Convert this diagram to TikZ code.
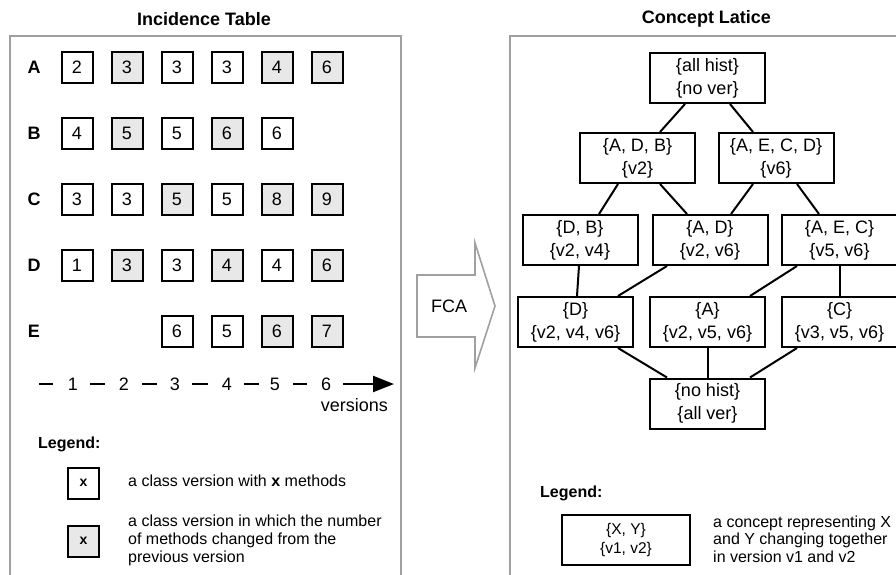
\documentclass[tikz,border=0pt]{standalone}
\usepackage{fontspec}
\setmainfont{Liberation Sans}
\usetikzlibrary{calc,arrows.meta}
\definecolor{cellgray}{HTML}{E8E8E8}
\definecolor{panelgray}{HTML}{A0A0A0}
\begin{document}
\begin{tikzpicture}[x=1pt,y=-1pt,
  txt/.style={font=\fontsize{18}{21}\selectfont},
  title/.style={font=\fontsize{18}{21}\selectfont\bfseries},
  cell/.style={draw=black,line width=2pt,minimum size=31pt,inner sep=0pt,txt},
  chg/.style={cell,fill=cellgray},
  concept/.style={draw=black,line width=2pt,minimum width=115pt,minimum height=50pt,
    align=center,inner sep=0pt,font=\fontsize{18}{23}\selectfont},
  link/.style={draw=black,line width=2pt},
  panel/.style={draw=panelgray,line width=2pt},
  legtxt/.style={font=\fontsize{16}{18}\selectfont,align=left,anchor=west,inner sep=0pt}]
\clip (0,0) rectangle (896,574);

% ---------- incidence table ----------
\node[title] (ttl1) at (204,19) {Incidence Table};
\draw[panel] (10,36) rectangle (401,600);

\foreach \r/\y in {A/67,B/133,C/199,D/265,E/331}
  \node[title] (lab\r) at (34,\y) {\r};

% row A
\foreach \i/\v/\s in {1/2/cell,2/3/chg,3/3/cell,4/3/cell,5/4/chg,6/6/chg}
  \node[\s] (A\i) at ({27+50*\i},67) {\v};
% row B
\foreach \i/\v/\s in {1/4/cell,2/5/chg,3/5/cell,4/6/chg,5/6/cell}
  \node[\s] (B\i) at ({27+50*\i},133) {\v};
% row C
\foreach \i/\v/\s in {1/3/cell,2/3/cell,3/5/chg,4/5/cell,5/8/chg,6/9/chg}
  \node[\s] (C\i) at ({27+50*\i},199) {\v};
% row D
\foreach \i/\v/\s in {1/1/cell,2/3/chg,3/3/cell,4/4/chg,5/4/cell,6/6/chg}
  \node[\s] (D\i) at ({27+50*\i},265) {\v};
% row E
\foreach \i/\v/\s in {3/6/cell,4/5/cell,5/6/chg,6/7/chg}
  \node[\s] (E\i) at ({27+50*\i},331) {\v};

% version axis
\foreach \i/\x in {1/73,2/124,3/175,4/227,5/275,6/326}
  \node[txt,inner sep=0pt] (ver\i) at (\x,384) {\i};
\foreach \a/\b in {39/53,90/105,142/157,192/208,244/259,293/307}
  \draw[line width=2pt] (\a,384) -- (\b,384);
\coordinate (axe) at (394,384);
\draw[line width=2.2pt,-{Triangle[length=21pt,width=16pt]}] (343,384) -- (axe);
\node[font=\fontsize{18}{21}\selectfont,anchor=east,inner sep=0pt] (vers) at (388,405) {versions};

% legend (left)
\node[font=\fontsize{16}{18}\selectfont\bfseries,anchor=west,inner sep=0pt] (leg1) at (38,444) {Legend:};
\node[cell,font=\fontsize{14}{16}\selectfont\bfseries] (lbox1) at (83.5,483) {x};
\node[legtxt] (ltxt1) at (128,481) {a class version with \textbf{x} methods};
\node[chg,font=\fontsize{14}{16}\selectfont\bfseries] (lbox2) at (83.5,541) {x};
\node[legtxt] (ltxt2) at (128,540) {a class version in which the number\\of methods changed from the\\previous version};

% ---------- FCA arrow ----------
\draw[draw=panelgray,line width=1.6pt,line join=miter]
  (417,275) -- (475,275) -- (475,243) -- (495,306) -- (475,368) -- (475,337) -- (417,337) -- cycle;
\node[txt] (fca) at (449,306) {FCA};

% ---------- concept lattice ----------
\node[title] (ttl2) at (706.5,19) {Concept Latice};
\draw[panel] (510,36) rectangle (920,600);

\node[concept] (top)  at (707.5,78)  {\{all hist\}\\\{no ver\}};
\node[concept] (adb)  at (637.5,158) {\{A, D, B\}\\\{v2\}};
\node[concept] (aecd) at (776,158)   {\{A, E, C, D\}\\\{v6\}};
\node[concept] (db)   at (580,240)   {\{D, B\}\\\{v2, v4\}};
\node[concept] (ad)   at (710,240)   {\{A, D\}\\\{v2, v6\}};
\node[concept] (aec)  at (839.5,240) {\{A, E, C\}\\\{v5, v6\}};
\node[concept] (d)    at (575.5,322) {\{D\}\\\{v2, v4, v6\}};
\node[concept] (a)    at (707.5,322) {\{A\}\\\{v2, v5, v6\}};
\node[concept] (c)    at (839.5,322) {\{C\}\\\{v3, v5, v6\}};
\node[concept] (bot)  at (707.5,403.5) {\{no hist\}\\\{all ver\}};

\draw[link] ([xshift=-22.5]top.south) -- ([xshift=22.5]adb.north);
\draw[link] ([xshift=22.5]top.south) -- ([xshift=-23]aecd.north);
\draw[link] ([xshift=-19.5]adb.south) -- ([xshift=19]db.north);
\draw[link] ([xshift=22.5]adb.south) -- ([xshift=-23]ad.north);
\draw[link] ([xshift=-23]aecd.south) -- ([xshift=21]ad.north);
\draw[link] ([xshift=21]aecd.south) -- ([xshift=-20.5]aec.north);
\draw[link] ([xshift=-1]db.south) -- ([xshift=1.5]d.north);
\draw[link] ([xshift=-43]ad.south) -- ([xshift=42.5]d.north);
\draw[link] ([xshift=-42.5]aec.south) -- ([xshift=42.5]a.north);
\draw[link] (aec.south) -- (c.north);
\draw[link] ([xshift=42.5]d.south) -- ([xshift=-40.5]bot.north);
\draw[link] (a.south) -- (bot.north);
\draw[link] ([xshift=-42.5]c.south) -- ([xshift=42.5]bot.north);

% legend (right)
\node[font=\fontsize{16}{18}\selectfont\bfseries,anchor=west,inner sep=0pt] (leg2) at (540,493) {Legend:};
\node[draw=black,line width=2pt,minimum width=128pt,minimum height=50pt,align=center,
  inner sep=0pt,font=\fontsize{15.5}{19}\selectfont] (lbox3) at (626,540) {\{X, Y\}\\\{v1, v2\}};
\node[legtxt,font=\fontsize{16}{17.5}\selectfont] (ltxt3) at (713,539)
  {a concept representing X\\and Y changing together\\in version v1 and v2};
\end{tikzpicture}
\end{document}
